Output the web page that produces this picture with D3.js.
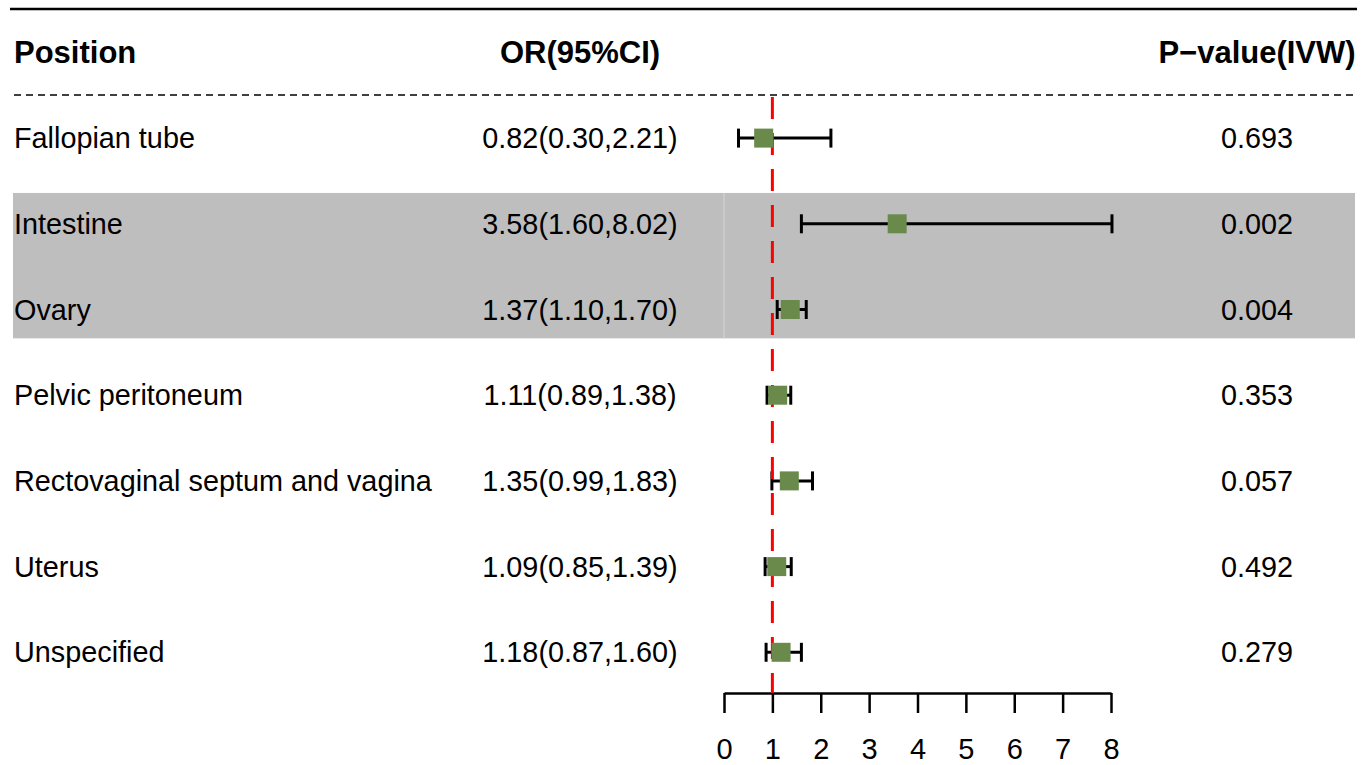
<!DOCTYPE html>
<html>
<head>
<meta charset="utf-8">
<script src="https://cdn.jsdelivr.net/npm/d3@7/dist/d3.min.js"></script>
<style>
  html, body { margin: 0; padding: 0; background: #fff; }
  svg { display: block; }
  text { font-family: "Liberation Sans", Arial, Helvetica, sans-serif; fill: #000; }
</style>
</head>
<body>
<svg id="chart" width="1372" height="765"></svg>
<script>
// ---- data ----
const headers = ["Position", "OR(95%CI)", "P\u2212value(IVW)"];
const positions = ["Fallopian tube", "Intestine", "Ovary", "Pelvic peritoneum",
  "Rectovaginal septum and vagina", "Uterus", "Unspecified"];
const orValues = [0.82, 3.58, 1.37, 1.11, 1.35, 1.09, 1.18];
const ciLower  = [0.30, 1.60, 1.10, 0.89, 0.99, 0.85, 0.87];
const ciUpper  = [2.21, 8.02, 1.70, 1.38, 1.83, 1.39, 1.60];
const pValues  = ["0.693", "0.002", "0.004", "0.353", "0.057", "0.492", "0.279"];
const highlighted = ["Intestine", "Ovary"];
const xTicks = [0, 1, 2, 3, 4, 5, 6, 7, 8];
const refValue = 1;

// ---- layout ----
const svg = d3.select("#chart");
const x = d3.scaleLinear().domain([0, 8]).range([724, 1111]);
const y = d3.scaleLinear().domain([0, 7]).range([52.4, 652.3]); // 0 = header row
const col1X = 14, col2X = 580, col3X = 1257;
const fs = 28.8, fsHead = 31;

const rows = positions.map((p, i) => ({
  pos: p, or: orValues[i], lo: ciLower[i], hi: ciUpper[i], p: pValues[i], idx: i + 1
}));

// highlight band
const hiIdx = rows.filter(r => highlighted.includes(r.pos)).map(r => r.idx);
const rowH = y(1) - y(0);
const bandTop = y(d3.min(hiIdx)) - rowH / 2 + 12;
const bandBot = y(d3.max(hiIdx)) + rowH / 2 - 14;
svg.append("rect")
  .attr("x", 13).attr("width", 1355 - 13)
  .attr("y", bandTop).attr("height", bandBot - bandTop)
  .attr("fill", "#bebebe");
// faint cell seam
svg.append("line")
  .attr("x1", 724).attr("x2", 724).attr("y1", bandTop).attr("y2", bandBot)
  .attr("stroke", "#d6d6d6").attr("stroke-width", 1);

// top solid line
svg.append("line").attr("x1", 10).attr("x2", 1357).attr("y1", 9).attr("y2", 9)
  .attr("stroke", "#000").attr("stroke-width", 2.5);
// dashed line under header
svg.append("line").attr("x1", 14).attr("x2", 1357).attr("y1", 95).attr("y2", 95)
  .attr("stroke", "#000").attr("stroke-width", 1.5).attr("stroke-dasharray", "7,5");

// headers
const headX = [col1X, col2X, col3X];
const headAnchor = ["start", "middle", "middle"];
svg.selectAll(".head").data(headers).join("text")
  .attr("x", (d, i) => headX[i]).attr("y", y(0)).attr("dy", "0.35em")
  .attr("text-anchor", (d, i) => headAnchor[i])
  .attr("font-size", fsHead).attr("font-weight", "bold").text(d => d);

// row texts
const g = svg.append("g");
g.selectAll(".c1").data(rows).join("text")
  .attr("x", col1X).attr("y", d => y(d.idx)).attr("dy", "0.35em")
  .attr("font-size", fs).text(d => d.pos);
g.selectAll(".c2").data(rows).join("text")
  .attr("x", col2X).attr("y", d => y(d.idx)).attr("dy", "0.35em")
  .attr("text-anchor", "middle")
  .attr("font-size", fs)
  .text(d => `${d.or.toFixed(2)}(${d.lo.toFixed(2)},${d.hi.toFixed(2)})`);
g.selectAll(".c3").data(rows).join("text")
  .attr("x", col3X).attr("y", d => y(d.idx)).attr("dy", "0.35em")
  .attr("text-anchor", "middle")
  .attr("font-size", fs).text(d => d.p);

// axis
const axisY = 693;
const axis = d3.axisBottom(x).tickValues(xTicks).tickSize(20).tickSizeOuter(0)
  .tickPadding(25).tickFormat(d3.format("d"));
const ax = svg.append("g").attr("transform", `translate(0,${axisY})`).call(axis);
ax.attr("font-size", 29).attr("font-family", "'Liberation Sans', Arial, sans-serif");
ax.select(".domain").attr("stroke", "#000").attr("stroke-width", 2.5);
ax.selectAll(".tick line").attr("stroke", "#000").attr("stroke-width", 2.5);
ax.selectAll(".tick text").attr("font-size", 29).attr("fill", "#000");

// error bars
const capH = 19;
const sw = 3;
const eb = svg.append("g");
eb.selectAll(".ci").data(rows).join("line")
  .attr("x1", d => x(d.lo)).attr("x2", d => x(d.hi))
  .attr("y1", d => y(d.idx)).attr("y2", d => y(d.idx))
  .attr("stroke", "#000").attr("stroke-width", sw);
eb.selectAll(".capl").data(rows).join("line")
  .attr("x1", d => x(d.lo)).attr("x2", d => x(d.lo))
  .attr("y1", d => y(d.idx) - capH / 2).attr("y2", d => y(d.idx) + capH / 2)
  .attr("stroke", "#000").attr("stroke-width", sw);
eb.selectAll(".capr").data(rows).join("line")
  .attr("x1", d => x(d.hi)).attr("x2", d => x(d.hi))
  .attr("y1", d => y(d.idx) - capH / 2).attr("y2", d => y(d.idx) + capH / 2)
  .attr("stroke", "#000").attr("stroke-width", sw);

// reference line
svg.append("line")
  .attr("x1", x(refValue)).attr("x2", x(refValue))
  .attr("y1", 95).attr("y2", axisY)
  .attr("stroke", "#ff0000").attr("stroke-width", 3)
  .attr("stroke-dasharray", "22,14").attr("stroke-dashoffset", -2);

// squares
const sq = 19;
svg.append("g").selectAll("rect").data(rows).join("rect")
  .attr("x", d => x(d.or) - sq / 2).attr("y", d => y(d.idx) - sq / 2)
  .attr("width", sq).attr("height", sq)
  .attr("fill", "#6a8a4c");
</script>
</body>
</html>
